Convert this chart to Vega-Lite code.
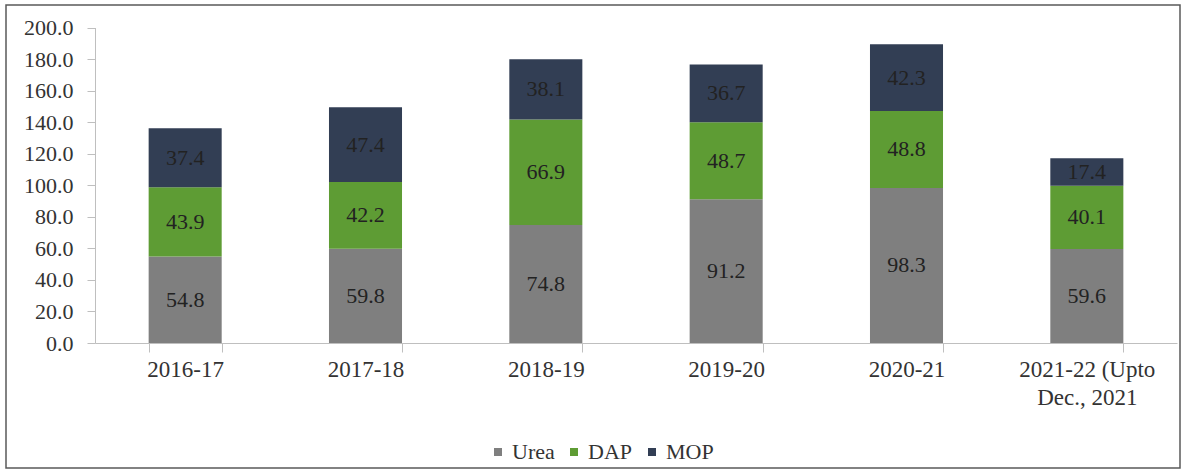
{
  "$schema": "https://vega.github.io/schema/vega-lite/v6.json",
  "width": 1174,
  "height": 463,
  "autosize": "none",
  "padding": {"left": 6, "top": 5, "right": 5, "bottom": 3},
  "background": "white",
  "config": {"view": {"stroke": "#595959", "strokeWidth": 1.5}, "font": "Liberation Serif"},
  "data": {"values": [
    {"year": "2016-17", "type": "Urea", "value": 54.8},
    {"year": "2016-17", "type": "DAP", "value": 43.9},
    {"year": "2016-17", "type": "MOP", "value": 37.4},
    {"year": "2017-18", "type": "Urea", "value": 59.8},
    {"year": "2017-18", "type": "DAP", "value": 42.2},
    {"year": "2017-18", "type": "MOP", "value": 47.4},
    {"year": "2018-19", "type": "Urea", "value": 74.8},
    {"year": "2018-19", "type": "DAP", "value": 66.9},
    {"year": "2018-19", "type": "MOP", "value": 38.1},
    {"year": "2019-20", "type": "Urea", "value": 91.2},
    {"year": "2019-20", "type": "DAP", "value": 48.7},
    {"year": "2019-20", "type": "MOP", "value": 36.7},
    {"year": "2020-21", "type": "Urea", "value": 98.3},
    {"year": "2020-21", "type": "DAP", "value": 48.8},
    {"year": "2020-21", "type": "MOP", "value": 42.3},
    {"year": "2021-22 (Upto Dec., 2021", "type": "Urea", "value": 59.6},
    {"year": "2021-22 (Upto Dec., 2021", "type": "DAP", "value": 40.1},
    {"year": "2021-22 (Upto Dec., 2021", "type": "MOP", "value": 17.4}
  ]},
  "transform": [{"stack": "value", "groupby": ["year"], "as": ["v0", "v1"]}],
  "encoding": {
    "x": {
      "field": "year", "type": "nominal", "sort": null,
      "scale": {"range": [89, 1171], "paddingInner": 0.595, "paddingOuter": 0.2975},
      "axis": {
        "title": null, "orient": "bottom", "offset": -125, "labelAngle": 0,
        "labelFont": "Liberation Serif", "labelFontSize": 23, "labelColor": "#333333",
        "domainColor": "#bfbfbf", "tickColor": "#bfbfbf", "tickBand": "extent",
        "tickSize": 9, "labelPadding": 6, "labelLineHeight": 28, "grid": false,
        "labelExpr": "datum.value == '2021-22 (Upto Dec., 2021' ? ['2021-22 (Upto', 'Dec., 2021'] : datum.value"
      }
    }
  },
  "layer": [
    {
      "mark": {"type": "bar"},
      "encoding": {
        "y": {
          "field": "v1", "type": "quantitative",
          "scale": {"domain": [0, 200], "range": [338, 22.5], "nice": false, "zero": true},
          "axis": {
            "title": null, "offset": -89, "values": [0, 20, 40, 60, 80, 100, 120, 140, 160, 180, 200],
            "format": ".1f", "labelFont": "Liberation Serif", "labelFontSize": 22, "labelColor": "#333333",
            "domainColor": "#bfbfbf", "tickColor": "#bfbfbf", "tickSize": 8, "labelPadding": 14, "grid": false
          }
        },
        "y2": {"field": "v0"},
        "color": {
          "field": "type", "type": "nominal",
          "scale": {"domain": ["Urea", "DAP", "MOP"], "range": ["#7f7f7f", "#5e9c34", "#323e54"]},
          "legend": {
            "title": null, "orient": "none", "legendX": 481, "legendY": 436, "direction": "horizontal",
            "symbolType": "square", "symbolSize": 64, "symbolStrokeWidth": 0,
            "labelFont": "Liberation Serif", "labelFontSize": 22, "labelColor": "#333333",
            "columnPadding": 8, "labelOffset": 3
          }
        }
      }
    },
    {
      "transform": [{"fold": ["v0", "v1"], "as": ["edge", "pos"]}],
      "mark": {"type": "text", "font": "Liberation Serif", "fontSize": 22, "color": "#222222", "baseline": "middle", "align": "center"},
      "encoding": {
        "y": {"aggregate": "mean", "field": "pos", "type": "quantitative"},
        "text": {"field": "value", "type": "quantitative", "format": ".1f"},
        "detail": {"field": "type"}
      }
    }
  ]
}
